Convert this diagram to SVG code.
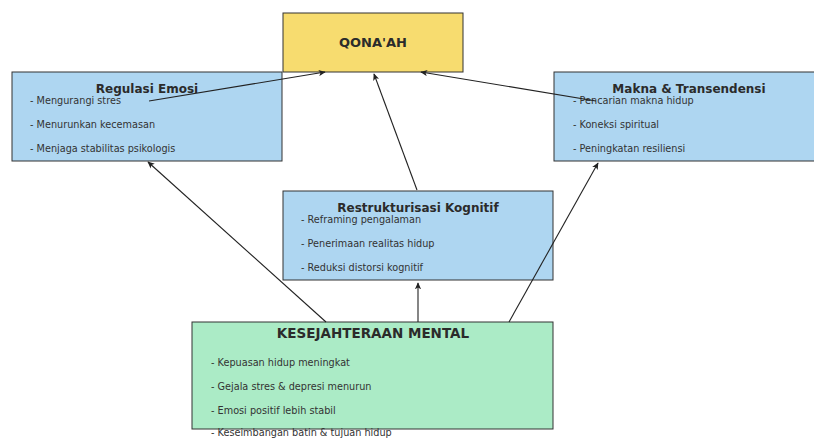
<svg xmlns="http://www.w3.org/2000/svg" width="814" height="438" viewBox="0 0 814 438">
<defs>
<style>
.box{stroke:#333;stroke-width:1}
.blue{fill:#AED6F1}
.gold{fill:#F7DC6F}
.green{fill:#ABEBC6}
.title{font-family:"DejaVu Sans",sans-serif;font-weight:bold;fill:#2b2b2b;text-anchor:middle}
.item{font-family:"DejaVu Sans",sans-serif;font-size:9.7px;fill:#333}
.conn{stroke:#222;stroke-width:1.1;fill:none;marker-end:url(#ah)}
</style>
<marker id="ah" viewBox="0 0 10 10" refX="9" refY="5" markerWidth="7" markerHeight="7" orient="auto" markerUnits="userSpaceOnUse">
<path d="M0,0.5 L10,5 L0,9.5 L2.5,5 Z" fill="#222"/>
</marker>
</defs>
<rect width="814" height="438" fill="#fff"/>
<g id="qonaah">
<rect class="box gold" x="283" y="13" width="180" height="59"/>
<text class="title" x="373" y="47" font-size="13">QONA'AH</text>
</g>
<g id="regulasi-emosi">
<rect class="box blue" x="12" y="72" width="270" height="89"/>
<text class="title" x="147" y="93" font-size="12">Regulasi Emosi</text>
<text class="item" x="30" y="104">- Mengurangi stres</text>
<text class="item" x="30" y="128">- Menurunkan kecemasan</text>
<text class="item" x="30" y="152">- Menjaga stabilitas psikologis</text>
</g>
<g id="makna-transendensi">
<rect class="box blue" x="554" y="72" width="262" height="89"/>
<text class="title" x="689" y="93" font-size="12">Makna &amp; Transendensi</text>
<text class="item" x="573" y="104">- Pencarian makna hidup</text>
<text class="item" x="573" y="128">- Koneksi spiritual</text>
<text class="item" x="573" y="152">- Peningkatan resiliensi</text>
</g>
<g id="restrukturisasi-kognitif">
<rect class="box blue" x="283" y="191" width="270" height="89"/>
<text class="title" x="418" y="212" font-size="12">Restrukturisasi Kognitif</text>
<text class="item" x="301" y="223">- Reframing pengalaman</text>
<text class="item" x="301" y="247">- Penerimaan realitas hidup</text>
<text class="item" x="301" y="271">- Reduksi distorsi kognitif</text>
</g>
<g id="kesejahteraan-mental">
<rect class="box green" x="192" y="322" width="361" height="107"/>
<text class="title" x="373" y="338" font-size="13.5">KESEJAHTERAAN MENTAL</text>
<text class="item" x="211" y="366">- Kepuasan hidup meningkat</text>
<text class="item" x="211" y="390">- Gejala stres &amp; depresi menurun</text>
<text class="item" x="211" y="414">- Emosi positif lebih stabil</text>
<text class="item" x="211" y="436">- Keseimbangan batin &amp; tujuan hidup</text>
</g>
<g id="connectors">
<line class="conn" x1="149" y1="101" x2="325" y2="72"/>
<line class="conn" x1="417" y1="190" x2="374" y2="74"/>
<line class="conn" x1="596" y1="101" x2="421" y2="72"/>
<line class="conn" x1="326" y1="322" x2="148" y2="162"/>
<line class="conn" x1="418" y1="322" x2="418" y2="283"/>
<line class="conn" x1="509" y1="322" x2="598" y2="163"/>
</g>
</svg>
